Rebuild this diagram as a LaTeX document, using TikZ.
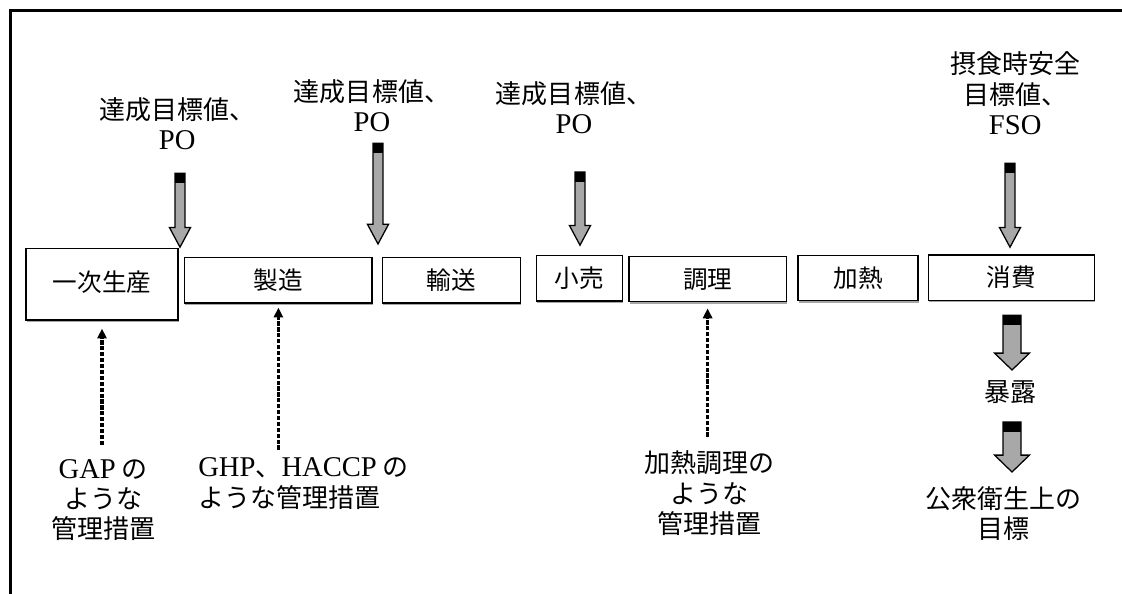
\documentclass[tikz,border=0pt]{standalone}
\usepackage{fontspec}
\setmainfont{Liberation Serif}[Scale=1.1]
\newfontfamily\jp{Noto Sans CJK JP}
\usepackage{tikz}
\usetikzlibrary{arrows.meta, calc, shadows}
\definecolor{arrowGray}{RGB}{168,168,168}
\newcommand{\lat}[1]{{\rmfamily #1}}
% block arrow: from, to, half shaft, half head, head length
\newcommand{\blockarrow}[5]{%
  \filldraw[fill=arrowGray, draw=black, line width=0.9pt, line join=miter]
    let \p1=(#1), \p2=(#2) in
    (\x1-#3,\y1) -- (\x1+#3,\y1) -- (\x1+#3,\y2+#5) -- (\x1+#4,\y2+#5)
    -- (\x2,\y2) -- (\x1-#4,\y2+#5) -- (\x1-#3,\y2+#5) -- cycle;
  \fill[black] let \p1=(#1) in (\x1-#3,\y1) rectangle (\x1+#3,\y1-7pt);
}

\begin{document}
\begin{tikzpicture}[
    stage/.style={rectangle, draw=black, line width=0.9pt, fill=white, inner sep=0pt, minimum height=1.13cm, font=\jp\fontsize{17.5}{21}\selectfont, drop shadow={shadow xshift=0.4pt, shadow yshift=-1.6pt, opacity=0.7}},
    target/.style={align=center, inner sep=0pt, font=\jp\fontsize{18.5}{21.5}\selectfont},
    dotarrow/.style={-{Triangle[length=7pt, width=6.5pt]}, line width=2.4pt, dash pattern=on 3pt off 1.2pt}
]
\useasboundingbox (0,0) rectangle (28.05,-14.85);

% Frame
\draw[line width=2pt] (0.26,-14.85) -- (0.26,-0.26) -- (28.05,-0.26);

% Food chain stages
\node[stage, minimum width=3.8cm, minimum height=1.78cm] (ichiji) at (2.55,-7.11) {\raisebox{4pt}{一次生産}};
\node[stage, minimum width=4.68cm] (seizo) at (6.96,-7.01) {製造};
\node[stage, minimum width=3.45cm] (yuso) at (11.28,-7.01) {輸送};
\node[stage, minimum width=2.15cm] (kouri) at (14.48,-6.96) {小売};
\node[stage, minimum width=3.93cm] (chouri) at (17.69,-6.98) {調理};
\node[stage, minimum width=3.0cm] (kanetsu) at (21.45,-6.95) {加熱};
\node[stage, minimum width=4.15cm] (shouhi) at (25.28,-6.94) {消費};

% Targets above
\node[target] (po1) at (4.43,-3.10) {達成目標値、\\\lat{PO}};
\node[target] (po2) at (9.30,-2.65) {達成目標値、\\\lat{PO}};
\node[target] (po3) at (14.35,-2.70) {達成目標値、\\\lat{PO}};
\node[target] (fso) at (25.38,-2.33) {摂食時安全\\目標値、\\\lat{FSO}};

% Control measures below
\node[target] (gap) at (2.58,-12.50) {\lat{GAP} の\\ような\\管理措置};
\node[target, anchor=west, align=left] (ghp) at (4.95,-12.09) {\lat{GHP}、\lat{HACCP} の\\ような管理措置};
\node[target] (cook) at (17.73,-12.33) {加熱調理の\\ような\\管理措置};
\node[target] (bakuro) at (25.25,-9.80) {暴露};
\node[target] (goal) at (25.08,-12.85) {公衆衛生上の\\目標};

% Block arrow ends
\coordinate (a1s) at (4.50,-4.33);  \coordinate (a1e) at (4.50,-6.18);
\coordinate (a2s) at (9.45,-3.58);  \coordinate (a2e) at (9.45,-6.10);
\coordinate (a3s) at (14.50,-4.30); \coordinate (a3e) at (14.50,-6.13);
\coordinate (a4s) at (25.25,-4.08); \coordinate (a4e) at (25.25,-6.18);
\coordinate (b1s) at (25.30,-7.88); \coordinate (b1e) at (25.30,-9.25);
\coordinate (b2s) at (25.30,-10.55); \coordinate (b2e) at (25.30,-11.80);

\blockarrow{a1s}{a1e}{3.5pt}{7.5pt}{14pt}
\blockarrow{a2s}{a2e}{3.5pt}{7.5pt}{14pt}
\blockarrow{a3s}{a3e}{3.5pt}{7.5pt}{14pt}
\blockarrow{a4s}{a4e}{3.5pt}{7.5pt}{14pt}
\blockarrow{b1s}{b1e}{6.4pt}{12.4pt}{12pt}
\blockarrow{b2s}{b2e}{6.4pt}{12.4pt}{12pt}

% Dotted arrows up to the stages
\draw[dotarrow, shorten <=0.35cm, shorten >=0.2cm] (ichiji.south |- gap.north) -- (ichiji.south);
\draw[dotarrow, shorten <=0.2cm, shorten >=0.1cm] (seizo.south |- ghp.north) -- (seizo.south);
\draw[dotarrow, shorten <=0.35cm, shorten >=0.15cm] (chouri.south |- cook.north) -- (chouri.south);

\end{tikzpicture}
\end{document}
